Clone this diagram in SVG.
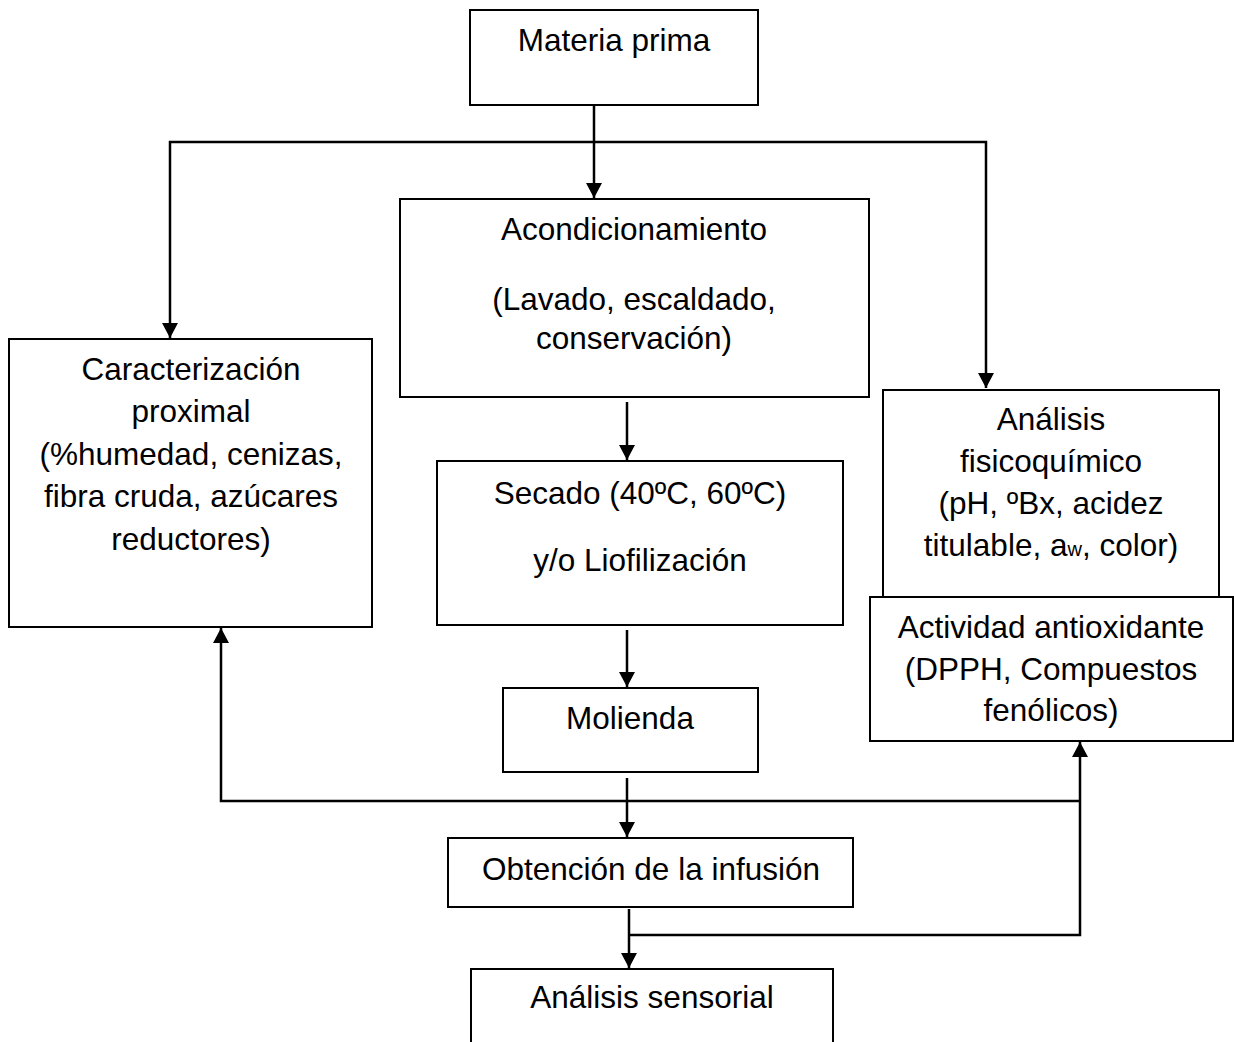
<svg xmlns="http://www.w3.org/2000/svg" width="1234" height="1042" viewBox="0 0 1234 1042">
<style>
.box{fill:#fff;stroke:#000;stroke-width:2}
.t{font-family:"Liberation Sans",Arial,sans-serif;font-size:31.5px;fill:#000;text-anchor:middle}
.c{fill:none;stroke:#000;stroke-width:2.5}
</style>
<defs>
<marker id="ah" markerUnits="userSpaceOnUse" markerWidth="17" markerHeight="16" refX="15" refY="8" orient="auto">
<path d="M0,0 L15,8 L0,16 z" fill="#000"/>
</marker>
</defs>
<rect width="1234" height="1042" fill="#fff"/>
<g id="connectors">
<path class="c" d="M594,105 V198" marker-end="url(#ah)"/>
<path class="c" d="M594,142 H170 V338" marker-end="url(#ah)"/>
<path class="c" d="M594,142 H986 V388" marker-end="url(#ah)"/>
<path class="c" d="M627,402 V460" marker-end="url(#ah)"/>
<path class="c" d="M627,630 V687" marker-end="url(#ah)"/>
<path class="c" d="M627,778 V837" marker-end="url(#ah)"/>
<path class="c" d="M1080,801 H221 V628" marker-end="url(#ah)"/>
<path class="c" d="M629,909 V968" marker-end="url(#ah)"/>
<path class="c" d="M629,935 H1080 V742" marker-end="url(#ah)"/>
</g>
<g id="materia">
<rect class="box" x="470" y="10" width="288" height="95"/>
<text class="t" x="614" y="51">Materia prima</text>
</g>
<g id="acondicionamiento">
<rect class="box" x="400" y="199" width="469" height="198"/>
<text class="t" x="634" y="240">Acondicionamiento</text>
<text class="t" x="634" y="310">(Lavado, escaldado,</text>
<text class="t" x="634" y="349">conservación)</text>
</g>
<g id="caracterizacion">
<rect class="box" x="9" y="339" width="363" height="288"/>
<text class="t" x="191" y="380">Caracterización</text>
<text class="t" x="191" y="422">proximal</text>
<text class="t" x="191" y="465">(%humedad, cenizas,</text>
<text class="t" x="191" y="507">fibra cruda, azúcares</text>
<text class="t" x="191" y="550">reductores)</text>
</g>
<g id="fisicoquimico">
<rect class="box" x="883" y="390" width="336" height="207"/>
<text class="t" x="1051" y="430">Análisis</text>
<text class="t" x="1051" y="472">fisicoquímico</text>
<text class="t" x="1051" y="514">(pH, ºBx, acidez</text>
<text class="t" x="1051" y="556">titulable, a<tspan font-size="20">w</tspan>, color)</text>
</g>
<g id="antioxidante">
<rect class="box" x="870" y="597" width="363" height="144"/>
<text class="t" x="1051" y="638">Actividad antioxidante</text>
<text class="t" x="1051" y="680">(DPPH, Compuestos</text>
<text class="t" x="1051" y="721">fenólicos)</text>
</g>
<g id="secado">
<rect class="box" x="437" y="461" width="406" height="164"/>
<text class="t" x="640" y="504">Secado (40ºC, 60ºC)</text>
<text class="t" x="640" y="571">y/o Liofilización</text>
</g>
<g id="molienda">
<rect class="box" x="503" y="688" width="255" height="84"/>
<text class="t" x="630" y="729">Molienda</text>
</g>
<g id="infusion">
<rect class="box" x="448" y="838" width="405" height="69"/>
<text class="t" x="651" y="880">Obtención de la infusión</text>
</g>
<g id="sensorial">
<rect class="box" x="471" y="969" width="362" height="90"/>
<text class="t" x="652" y="1008">Análisis sensorial</text>
</g>
</svg>
